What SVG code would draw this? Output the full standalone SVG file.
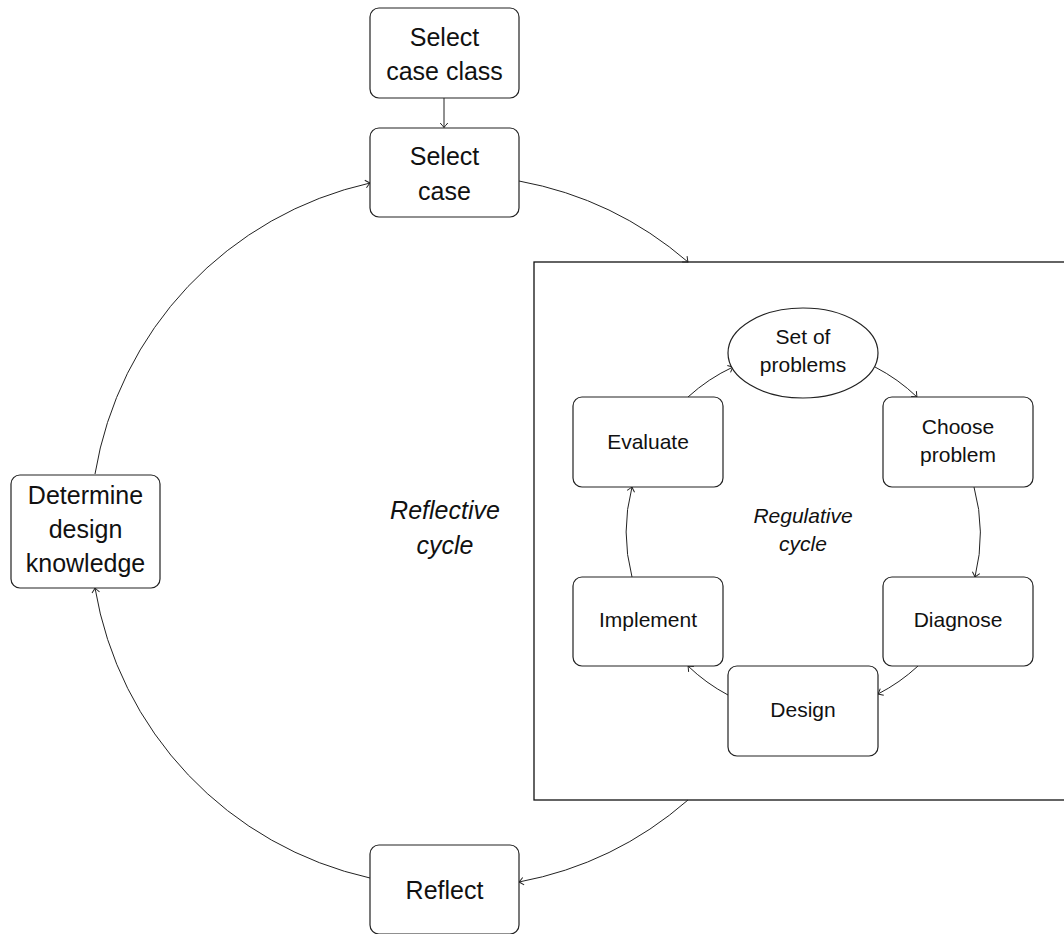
<svg xmlns="http://www.w3.org/2000/svg" width="1064" height="934" viewBox="0 0 1064 934">
<defs>
<marker id="arr" markerWidth="12" markerHeight="12" refX="0" refY="0" viewBox="-6 -6 12 12" orient="auto" markerUnits="userSpaceOnUse">
<path d="M-4.5,-3.8 Q-1.2,-0.8 0,0 Q-1.2,0.8 -4.5,3.8" fill="none" stroke="#222" stroke-width="1"/>
</marker>
<style>
.box{fill:#fff;stroke:#222;stroke-width:1.2}
.frame{fill:none;stroke:#111;stroke-width:1.3}
.lab{font-family:"Liberation Sans",Arial,sans-serif;fill:#111;text-anchor:middle}
.big{font-size:25px}
.small{font-size:21px}
.it{font-style:italic}
.edge{fill:none;stroke:#222;stroke-width:1;marker-end:url(#arr)}
</style>
</defs>
<rect class="frame" x="534" y="262" width="540" height="538"/>
<g id="connectors">
<path class="edge" d="M444,98 L444,127.5"/>
<path class="edge" d="M519,181 A358,358 0 0 1 688,262"/>
<path class="edge" d="M688,800 A358,358 0 0 1 519,882"/>
<path class="edge" d="M370,878 A358,358 0 0 1 95,588"/>
<path class="edge" d="M95,474 A358,358 0 0 1 370,183"/>
<path class="edge" d="M688,397 A178,178 0 0 1 733,367"/>
<path class="edge" d="M875,367 A178,178 0 0 1 917,397"/>
<path class="edge" d="M974,487 A178,178 0 0 1 975,577"/>
<path class="edge" d="M918,666 A178,178 0 0 1 878,694"/>
<path class="edge" d="M728,695 A178,178 0 0 1 688,666"/>
<path class="edge" d="M632,577 A178,178 0 0 1 632,487"/>
</g>
<g id="select-case-class">
<rect class="box" x="370" y="8" width="149" height="90" rx="9"/>
<text class="lab big" x="444.5" y="46">Select</text>
<text class="lab big" x="444.5" y="80">case class</text>
</g>
<g id="select-case">
<rect class="box" x="370" y="128" width="149" height="89" rx="9"/>
<text class="lab big" x="444.5" y="165">Select</text>
<text class="lab big" x="444.5" y="200">case</text>
</g>
<g id="determine">
<rect class="box" x="11" y="475" width="149" height="113" rx="9"/>
<text class="lab big" x="85.5" y="504">Determine</text>
<text class="lab big" x="85.5" y="538">design</text>
<text class="lab big" x="85.5" y="572">knowledge</text>
</g>
<g id="reflect">
<rect class="box" x="370" y="845" width="149" height="89" rx="9"/>
<text class="lab big" x="444.5" y="899">Reflect</text>
</g>
<g id="reflective-cycle">
<text class="lab big it" x="445" y="519">Reflective</text>
<text class="lab big it" x="445" y="554">cycle</text>
</g>
<g id="set-of-problems">
<ellipse class="box" cx="803" cy="353" rx="75" ry="45"/>
<text class="lab small" x="803" y="344">Set of</text>
<text class="lab small" x="803" y="372">problems</text>
</g>
<g id="choose-problem">
<rect class="box" x="883" y="397" width="150" height="90" rx="9"/>
<text class="lab small" x="958" y="434">Choose</text>
<text class="lab small" x="958" y="462">problem</text>
</g>
<g id="diagnose">
<rect class="box" x="883" y="577" width="150" height="89" rx="9"/>
<text class="lab small" x="958" y="627">Diagnose</text>
</g>
<g id="design">
<rect class="box" x="728" y="666" width="150" height="90" rx="9"/>
<text class="lab small" x="803" y="717">Design</text>
</g>
<g id="implement">
<rect class="box" x="573" y="577" width="150" height="89" rx="9"/>
<text class="lab small" x="648" y="627">Implement</text>
</g>
<g id="evaluate">
<rect class="box" x="573" y="397" width="150" height="90" rx="9"/>
<text class="lab small" x="648" y="449">Evaluate</text>
</g>
<g id="regulative-cycle">
<text class="lab small it" x="803" y="523">Regulative</text>
<text class="lab small it" x="803" y="551">cycle</text>
</g>
</svg>
